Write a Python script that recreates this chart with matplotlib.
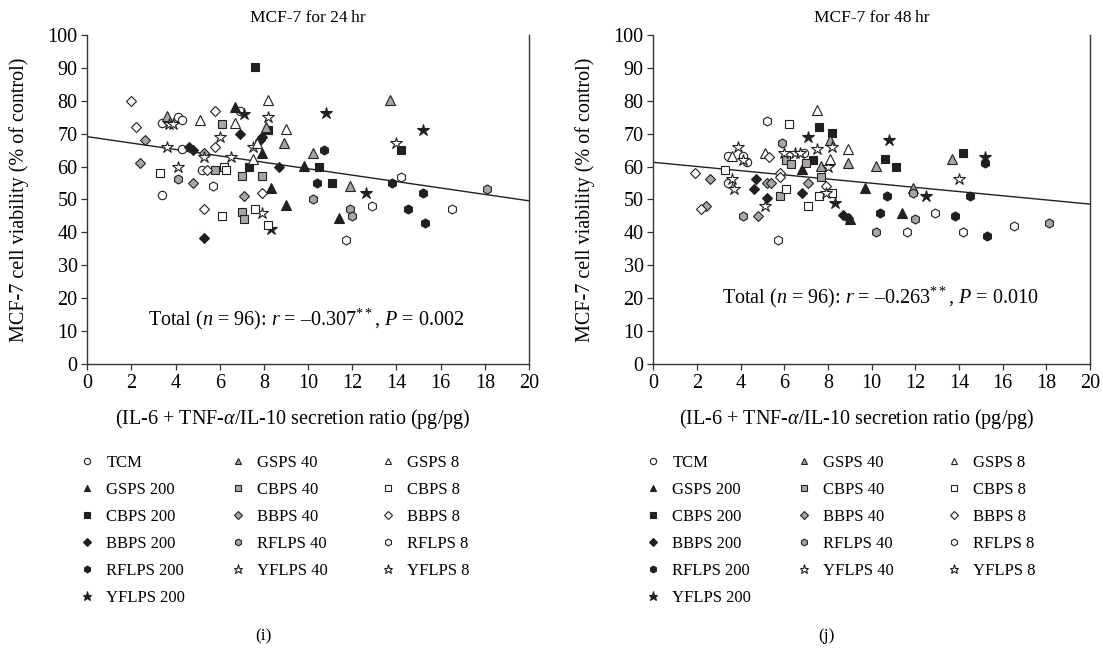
import matplotlib
matplotlib.use('Agg')
import matplotlib.pyplot as plt
from matplotlib.lines import Line2D

plt.rcParams['font.family'] = ['Liberation Serif', 'DejaVu Serif']
plt.rcParams['mathtext.fontset'] = 'custom'
plt.rcParams['mathtext.rm'] = 'Liberation Serif'
plt.rcParams['mathtext.it'] = 'Liberation Serif:italic'
plt.rcParams['font.size'] = 12.5

groups = ['TCM', 'GSPS 200', 'CBPS 200', 'BBPS 200', 'RFLPS 200', 'YFLPS 200',
          'GSPS 40', 'CBPS 40', 'BBPS 40', 'RFLPS 40', 'YFLPS 40',
          'GSPS 8', 'CBPS 8', 'BBPS 8', 'RFLPS 8', 'YFLPS 8']

# ---- MCF-7 24 hr: (x, y) per group ----
h24_x = {
    'TCM':       [6.9, 4.1, 4.3, 3.4, 4.3, 5.2, 3.4],
    'GSPS 200':  [6.7, 7.9, 9.8, 8.3, 9.0, 11.4],
    'CBPS 200':  [7.6, 8.2, 7.3, 10.5, 11.1, 14.2],
    'BBPS 200':  [6.9, 7.9, 7.8, 4.6, 4.8, 8.7, 5.3],
    'RFLPS 200': [10.4, 10.7, 13.8, 15.2, 14.5, 15.3],
    'YFLPS 200': [7.1, 10.8, 15.2, 12.6, 8.3],
    'GSPS 40':   [3.6, 8.1, 8.9, 10.2, 13.7, 11.9],
    'CBPS 40':   [6.1, 5.8, 7.0, 7.9, 7.0, 7.1],
    'BBPS 40':   [2.6, 2.4, 5.3, 4.8, 7.1],
    'RFLPS 40':  [4.1, 10.2, 11.9, 12.0, 18.1],
    'YFLPS 40':  [3.7, 6.0, 7.5, 4.1, 7.9, 5.3],
    'GSPS 8':    [8.2, 5.1, 6.7, 9.0, 7.5, 7.7],
    'CBPS 8':    [3.3, 6.2, 6.3, 6.1, 7.6, 8.2],
    'BBPS 8':    [2.0, 2.2, 5.8, 5.8, 5.4, 7.9, 5.3],
    'RFLPS 8':   [5.7, 14.2, 12.9, 16.5, 11.7],
    'YFLPS 8':   [8.2, 3.9, 3.6, 6.5, 14.0],
}
h24_y = {
    'TCM':       [77.0, 75.2, 74.2, 73.3, 65.3, 59.0, 51.3],
    'GSPS 200':  [78.2, 64.2, 60.2, 53.4, 48.3, 44.3],
    'CBPS 200':  [90.2, 71.1, 60.0, 60.0, 54.9, 65.0],
    'BBPS 200':  [69.9, 69.1, 68.1, 65.9, 65.0, 60.0, 38.2],
    'RFLPS 200': [54.9, 65.0, 54.9, 52.1, 47.0, 43.0],
    'YFLPS 200': [75.9, 76.2, 71.1, 52.1, 40.9],
    'GSPS 40':   [75.4, 72.1, 67.3, 64.2, 80.2, 54.1],
    'CBPS 40':   [73.1, 59.0, 57.1, 57.1, 46.1, 44.1],
    'BBPS 40':   [68.1, 61.0, 64.0, 54.9, 51.1],
    'RFLPS 40':  [56.1, 50.1, 47.1, 45.1, 53.1],
    'YFLPS 40':  [73.1, 68.9, 65.9, 60.0, 46.0, 62.8],
    'GSPS 8':    [80.2, 74.2, 73.4, 71.3, 62.4, 67.3],
    'CBPS 8':    [58.0, 60.0, 59.0, 45.1, 47.1, 42.2],
    'BBPS 8':    [79.9, 71.9, 77.0, 65.9, 59.0, 51.9, 47.0],
    'RFLPS 8':   [54.1, 56.9, 48.0, 47.0, 37.7],
    'YFLPS 8':   [75.0, 73.1, 66.0, 63.0, 67.1],
}

# ---- MCF-7 48 hr ----
h48_x = {
    'TCM':       [3.4, 4.1, 4.3, 6.9, 3.4],
    'GSPS 200':  [6.8, 9.7, 11.4, 9.0],
    'CBPS 200':  [7.6, 8.2, 7.3, 10.6, 11.1, 14.2],
    'BBPS 200':  [4.7, 4.6, 6.8, 5.2, 8.7, 8.9],
    'RFLPS 200': [15.2, 10.7, 14.5, 10.4, 13.8, 15.3],
    'YFLPS 200': [7.1, 10.8, 15.2, 12.5, 8.3],
    'GSPS 40':   [8.1, 7.7, 8.9, 10.2, 13.7, 11.9],
    'CBPS 40':   [6.1, 6.3, 7.0, 7.7, 5.8],
    'BBPS 40':   [2.6, 5.2, 5.4, 7.1, 2.4, 4.8],
    'RFLPS 40':  [5.9, 4.1, 11.9, 12.0, 18.1, 10.2],
    'YFLPS 40':  [3.9, 6.0, 8.0, 3.6, 5.1, 14.0],
    'GSPS 8':    [7.5, 8.9, 5.1, 8.1, 3.6],
    'CBPS 8':    [6.2, 3.3, 6.1, 7.6, 7.1, 8.2],
    'BBPS 8':    [1.9, 5.3, 5.8, 5.8, 7.9, 2.2],
    'RFLPS 8':   [5.2, 5.7, 11.6, 14.2, 16.5, 12.9],
    'YFLPS 8':   [8.2, 7.5, 4.1, 6.5, 6.7, 3.7, 7.9],
}
h48_y = {
    'TCM':       [63.2, 63.2, 61.5, 64.0, 55.1],
    'GSPS 200':  [59.2, 53.4, 46.0, 44.2],
    'CBPS 200':  [71.9, 70.1, 62.0, 62.2, 60.0, 64.0],
    'BBPS 200':  [56.1, 53.1, 52.1, 50.4, 45.3, 44.3],
    'RFLPS 200': [61.0, 51.1, 51.1, 46.0, 45.0, 39.0],
    'YFLPS 200': [69.1, 68.1, 63.0, 51.1, 49.0],
    'GSPS 40':   [68.1, 60.2, 61.2, 60.2, 62.2, 53.6],
    'CBPS 40':   [62.0, 60.8, 61.0, 56.9, 51.1],
    'BBPS 40':   [56.1, 54.9, 54.9, 54.9, 48.0, 45.1],
    'RFLPS 40':  [67.1, 45.1, 52.1, 44.0, 43.0, 40.0],
    'YFLPS 40':  [66.1, 64.0, 59.8, 56.1, 48.0, 56.1],
    'GSPS 8':    [77.2, 65.3, 64.0, 62.2, 63.2],
    'CBPS 8':    [72.9, 59.0, 53.1, 51.1, 48.0, 52.1],
    'BBPS 8':    [58.0, 62.8, 58.0, 56.9, 54.1, 47.0],
    'RFLPS 8':   [73.9, 37.7, 40.0, 40.0, 42.0, 46.0],
    'YFLPS 8':   [65.9, 65.3, 62.0, 64.0, 64.0, 53.1, 52.1],
}

# regression lines as drawn (intercept, slope)
fit_24 = (69.1, -0.975)
fit_48 = (61.3, -0.635)

BLACK = '#231f20'
GRAY = '#a6a6a6'
WHITE = 'white'
# marker, face colour, size
styles = {
    'TCM': ('o', WHITE, 6),
    'GSPS 200': ('^', BLACK, 6.5), 'GSPS 40': ('^', GRAY, 6.5), 'GSPS 8': ('^', WHITE, 6.5),
    'CBPS 200': ('s', BLACK, 5.5), 'CBPS 40': ('s', GRAY, 5.5), 'CBPS 8': ('s', WHITE, 5.5),
    'BBPS 200': ('D', BLACK, 5), 'BBPS 40': ('D', GRAY, 5), 'BBPS 8': ('D', WHITE, 5),
    'RFLPS 200': ('h', BLACK, 6.5), 'RFLPS 40': ('h', GRAY, 6.5), 'RFLPS 8': ('h', WHITE, 6.5),
    'YFLPS 200': ('*', BLACK, 9), 'YFLPS 40': ('*', WHITE, 9), 'YFLPS 8': ('*', WHITE, 9),
}

W, H = 1103, 648
fig = plt.figure(figsize=(W / 100, H / 100), dpi=100)


def panel(left_px, width_px, xs, ys, fit, title, note, note_pos, caption):
    ax = fig.add_axes([left_px / W, (H - 364) / H, width_px / W, 329 / H])
    for g in groups:
        m, fc, ms = styles[g]
        ax.plot(xs[g], ys[g], linestyle='none', marker=m, markersize=ms,
                markerfacecolor=fc, markeredgecolor=BLACK, markeredgewidth=0.8,
                zorder=3)
    b, k = fit
    ax.plot([0, 20], [b, b + 20 * k], color=BLACK, lw=1.0, zorder=2)
    ax.set_xlim(0, 20)
    ax.set_ylim(0, 100)
    ax.set_xticks(range(0, 21, 2))
    ax.set_yticks(range(0, 101, 10))
    ax.spines['top'].set_visible(False)
    for s in ['left', 'bottom', 'right']:
        ax.spines[s].set_color('#333333')
        ax.spines[s].set_linewidth(1.0)
    ax.tick_params(direction='out', length=4, width=0.9, color='#333333',
                   labelsize=14.5, pad=3)
    ax.set_title(title, fontsize=12.5, pad=9)
    ax.set_ylabel('MCF-7 cell viability (% of control)', fontsize=14.5, labelpad=13)
    ax.set_xlabel('(IL-6 + TNF-$\\alpha$/IL-10 secretion ratio (pg/pg)',
                  fontsize=14.5, labelpad=10)
    ax.xaxis.label.set_x(0.465)
    ax.text(note_pos[0], note_pos[1], note, ha='center', va='center', fontsize=14.5)

    # legend: three columns of marker + label
    cols = [groups[0:6], groups[6:11], groups[11:16]]
    for i, col in enumerate(cols):
        handles = []
        for g in col:
            m, fc, ms = styles[g]
            handles.append(Line2D([], [], linestyle='none', marker=m,
                                  markersize=ms * 0.75, markerfacecolor=fc,
                                  markeredgecolor=BLACK, markeredgewidth=0.8))
        mx = left_px + i * 150.5
        fig.legend(handles, col, loc='upper left', frameon=False,
                   bbox_to_anchor=((mx - 8.4) / W, (H - 455) / H),
                   bbox_transform=fig.transFigure, handlelength=1.0,
                   handletextpad=0.65, borderpad=0, borderaxespad=0,
                   labelspacing=0.66, fontsize=12)
    fig.text((left_px + width_px / 2 - 45) / W, (H - 636) / H, caption,
             ha='center', va='center', fontsize=12.5)
    return ax


panel(87.3, 441.7, h24_x, h24_y, fit_24, 'MCF-7 for 24\u2009hr',
      'Total ($n$ = 96): $r$ = \u20130.307$^{**}$, $P$ = 0.002', (9.9, 13.5), '(i)')
panel(653.3, 436.7, h48_x, h48_y, fit_48, 'MCF-7 for 48\u2009hr',
      'Total ($n$ = 96): $r$ = \u20130.263$^{**}$, $P$ = 0.010', (10.4, 20.1), '(j)')

fig.savefig('out.png', dpi=100)
